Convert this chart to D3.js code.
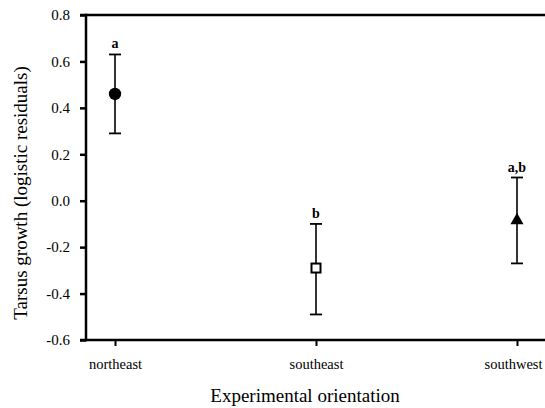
<!DOCTYPE html>
<html>
<head>
<meta charset="utf-8">
<script src="https://cdn.jsdelivr.net/npm/d3@7"></script>
<style>
  body { margin: 0; background: #fff; }
  svg { display: block; font-family: "Liberation Serif", "Times New Roman", serif; }
</style>
</head>
<body>
<script>
// data
const orientations = ["northeast", "southeast", "southwest"];
const means = [0.46, -0.29, -0.08];
const upper = [0.63, -0.10, 0.10];
const lower = [0.29, -0.49, -0.27];
const letters = ["a", "b", "a,b"];
const shapes = ["circle", "square", "triangle"];
const yTicks = [-0.6, -0.4, -0.2, 0.0, 0.2, 0.4, 0.6, 0.8];

const width = 545, height = 408;
const plotLeft = 86, plotRight = 545, plotTop = 15, plotBottom = 340;

const svg = d3.select("body").append("svg")
  .attr("width", width)
  .attr("height", height);

const x = d3.scalePoint()
  .domain(orientations)
  .range([115, 517]);

const y = d3.scaleLinear()
  .domain([-0.6, 0.8])
  .range([plotBottom, plotTop]);

const fmt = d => d3.format(".1f")(d).replace("\u2212", "-");

// y axis
const yAxis = svg.append("g")
  .attr("transform", `translate(${plotLeft},0)`)
  .call(d3.axisLeft(y).tickValues(yTicks).tickFormat(fmt).tickSize(6).tickSizeOuter(0));
yAxis.select(".domain").remove();
yAxis.selectAll(".tick line").attr("stroke", "#000").attr("stroke-width", 2.5);
yAxis.selectAll(".tick text")
  .attr("x", -16)
  .style("font-size", "15px")
  .style("font-family", "Liberation Serif, serif")
  .attr("fill", "#000");

// x axis
const xAxis = svg.append("g")
  .attr("transform", `translate(0,${plotBottom})`)
  .call(d3.axisBottom(x).tickSize(6).tickSizeOuter(0));
xAxis.select(".domain").remove();
xAxis.selectAll(".tick line").attr("stroke", "#000").attr("stroke-width", 2);
xAxis.selectAll(".tick text")
  .attr("y", 29)
  .attr("dy", 0)
  .style("font-size", "14.5px")
  .style("font-family", "Liberation Serif, serif")
  .attr("fill", "#000");
// last label sits flush with the right edge in the original
xAxis.selectAll(".tick text").filter(d => d === "southwest")
  .attr("text-anchor", "end")
  .attr("x", 25);

// frame lines: left, top, bottom
svg.append("line").attr("x1", plotLeft).attr("x2", plotLeft).attr("y1", plotTop - 1.2).attr("y2", plotBottom + 1.2)
  .attr("stroke", "#000").attr("stroke-width", 2.5);
svg.append("line").attr("x1", 80).attr("x2", plotRight).attr("y1", plotTop).attr("y2", plotTop)
  .attr("stroke", "#000").attr("stroke-width", 2.5);
svg.append("line").attr("x1", 80).attr("x2", plotRight).attr("y1", plotBottom).attr("y2", plotBottom)
  .attr("stroke", "#000").attr("stroke-width", 2.5);

// error bars
const pts = orientations.map((o, i) => ({ o, m: means[i], hi: upper[i], lo: lower[i], lab: letters[i], shape: shapes[i] }));
const g = svg.append("g");
const cap = 6;

g.selectAll(".bar").data(pts).enter().append("line")
  .attr("x1", d => x(d.o)).attr("x2", d => x(d.o))
  .attr("y1", d => y(d.hi)).attr("y2", d => y(d.lo))
  .attr("stroke", "#000").attr("stroke-width", 1.6);
g.selectAll(".capHi").data(pts).enter().append("line")
  .attr("x1", d => x(d.o) - cap).attr("x2", d => x(d.o) + cap)
  .attr("y1", d => y(d.hi)).attr("y2", d => y(d.hi))
  .attr("stroke", "#000").attr("stroke-width", 1.8);
g.selectAll(".capLo").data(pts).enter().append("line")
  .attr("x1", d => x(d.o) - cap).attr("x2", d => x(d.o) + cap)
  .attr("y1", d => y(d.lo)).attr("y2", d => y(d.lo))
  .attr("stroke", "#000").attr("stroke-width", 1.8);

// markers
pts.forEach(d => {
  const cx = x(d.o), cy = y(d.m);
  if (d.shape === "circle") {
    g.append("circle").attr("cx", cx).attr("cy", cy).attr("r", 6.2).attr("fill", "#000");
  } else if (d.shape === "square") {
    g.append("rect").attr("x", cx - 4.5).attr("y", cy - 4.5).attr("width", 9).attr("height", 9)
      .attr("fill", "#fff").attr("stroke", "#000").attr("stroke-width", 2);
  } else {
    g.append("path").attr("d", `M${cx},${cy - 6.5}L${cx + 6.5},${cy + 5}L${cx - 6.5},${cy + 5}Z`)
      .attr("fill", "#000");
  }
});

// significance letters
g.selectAll(".lab").data(pts).enter().append("text")
  .attr("x", d => x(d.o))
  .attr("y", d => y(d.hi) - 6)
  .attr("text-anchor", "middle")
  .style("font-size", "14px")
  .style("font-weight", "bold")
  .text(d => d.lab);

// axis titles
svg.append("text")
  .attr("transform", `translate(27,193) rotate(-90)`)
  .attr("text-anchor", "middle")
  .style("font-size", "19px")
  .text("Tarsus growth (logistic residuals)");

svg.append("text")
  .attr("x", 305)
  .attr("y", 402)
  .attr("text-anchor", "middle")
  .style("font-size", "19px")
  .text("Experimental orientation");
</script>
</body>
</html>
